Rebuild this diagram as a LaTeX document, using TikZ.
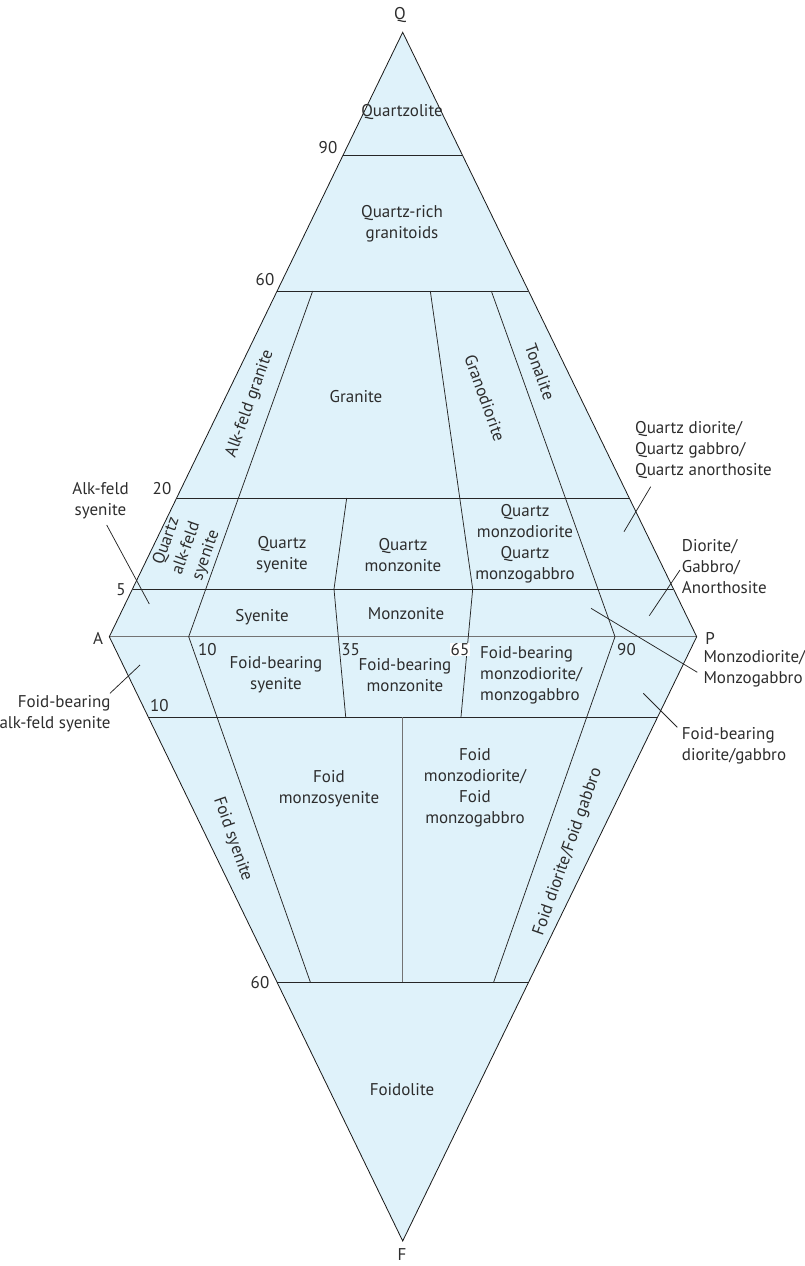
\documentclass[tikz,border=0pt]{standalone}
\usepackage{fontspec}
\setmainfont{PT Sans}
\definecolor{fillblue}{RGB}{223,242,250}
\definecolor{txt}{RGB}{45,45,45}
\begin{document}
\begin{tikzpicture}[x=1pt,y=-1pt,
  lbl/.style={font=\fontsize{17}{21}\selectfont, text=txt, align=center, inner sep=0pt},
  lbll/.style={lbl, align=left, anchor=west},
  lblr/.style={lbl, align=right, anchor=east},
  edge/.style={draw=black!90, line width=0.8pt, line join=miter},
  div/.style={draw=black!85, line width=0.75pt},
  axis/.style={draw=black!55, line width=1.3pt},
  leader/.style={draw=black!85, line width=0.75pt}]
\useasboundingbox (0,0) rectangle (804,1266);

% apices
\coordinate (Q) at (402.7,32.3);
\coordinate (A) at (109.3,636.7);
\coordinate (P) at (696.7,636.7);
\coordinate (F) at (402.7,1241);

\fill[fillblue] (Q) -- (A) -- (F) -- (P) -- cycle;

% horizontal scale lines
\coordinate (l90) at (343.1,155);  \coordinate (r90) at (462.3,155);
\coordinate (l60u) at (277.1,291); \coordinate (r60u) at (528.3,291);
\coordinate (l20) at (176.6,498);  \coordinate (r20) at (628.8,498);
\coordinate (l5) at (132.5,589);   \coordinate (r5) at (672.9,589);
\coordinate (l10) at (148.3,717);  \coordinate (r10) at (657.1,717);
\coordinate (l60d) at (277,982);   \coordinate (r60d) at (528.4,982);
\draw[div] (l90) -- (r90);
\draw[div] (l60u) -- (r60u);
\draw[div] (l20) -- (r20);
\draw[div] (l5) -- (r5);
\draw[div] (l10) -- (r10);
\draw[div] (l60d) -- (r60d);
\draw[axis] (A) -- (P);

% interior dividers
\coordinate (a1) at (312.7,291); \coordinate (a2) at (188.7,636.7); \coordinate (a3) at (310.3,982);
\draw[div] (a1) -- (a2) -- (a3);
\coordinate (b1) at (346.7,498); \coordinate (b2) at (334,589); \coordinate (b3) at (338.3,636.7); \coordinate (b4) at (345.7,717);
\draw[div] (b1) -- (b2) -- (b3) -- (b4);
\coordinate (c1) at (430.3,291); \coordinate (c2) at (472.7,589); \coordinate (c3) at (468.3,636.7); \coordinate (c4) at (461,717);
\draw[div] (c1) -- (c2) -- (c3) -- (c4);
\coordinate (d1) at (491.3,291); \coordinate (d2) at (615,636.7); \coordinate (d3) at (493.7,982);
\draw[div] (d1) -- (d2) -- (d3);
\coordinate (e1) at (402.7,717); \coordinate (e2) at (402.7,982);
\draw[axis] (e1) -- (e2);

% outline
\draw[edge] (Q) -- (A) -- (F) -- (P) -- cycle;

% apex labels
\node[lbl] (qlab) at (400,15) {Q};
\node[lbl] (alab) at (98,638) {A};
\node[lbl] (plab) at (710,638) {P};
\node[lbl] (flab) at (402,1255) {F};

% scale numbers
\node[lbl] (n90u) at (328,148) {90};
\node[lbl] (n60u) at (265,280) {60};
\node[lbl] (n20) at (162,489) {20};
\node[lbl] (n5) at (121,590) {5};
\node[lbl] (n10a) at (207.3,649.3) {10};
\node[lbl] (n35) at (350.7,649.3) {35};
\node[lbl, fill=white, inner sep=0.5pt] (n65) at (460,649.3) {65};
\node[lbl] (n90d) at (626.5,649.3) {90};
\node[lbl] (n10b) at (159.3,705.7) {10};
\node[lbl] (n60d) at (260,983) {60};

% field labels
\node[lbl] (qz) at (402,112) {Quartzolite};
\node[lbl] (qrg) at (402,223.5) {Quartz-rich\\granitoids};
\node[lbl] (gr) at (356,397) {Granite};
\node[lbl, rotate=70.3] (afg) at (250,404) {Alk-feld granite};
\node[lbl, rotate=-70.3] (gd) at (485,398) {Granodiorite};
\node[lbl, rotate=-70.3] (ton) at (540,372) {Tonalite};
\node[lbl, rotate=70.3] (qafs) at (186.5,548.3) {Quartz\\alk-feld\\syenite};
\node[lbl] (qsy) at (282,555) {Quartz\\syenite};
\node[lbl] (qmz) at (403,555) {Quartz\\monzonite};
\node[lbl] (qmd) at (525,544) {Quartz\\monzodiorite\\Quartz\\monzogabbro};
\node[lbl] (sy) at (262,616.7) {Syenite};
\node[lbl] (mz) at (406,614) {Monzonite};
\node[lbl] (fbs) at (276,675) {Foid-bearing\\syenite};
\node[lbl] (fbm) at (405,675) {Foid-bearing\\monzonite};
\node[lbll] (fbmd) at (480,675) {Foid-bearing\\monzodiorite/\\monzogabbro};
\node[lbl] (fms) at (329,789) {Foid\\monzosyenite};
\node[lbl] (fmd) at (475,787.5) {Foid\\monzodiorite/\\Foid\\monzogabbro};
\node[lbl, rotate=-70.6] (fsy) at (232.5,839) {Foid syenite};
\node[lbl, rotate=70.6] (fdg) at (568,852) {Foid diorite/Foid gabbro};
\node[lbl] (fdl) at (402,1090) {Foidolite};

% outside labels
\node[lbl] (afs) at (100.5,501) {Alk-feld\\syenite};
\node[lblr] (fbafs) at (110.7,713.5) {Foid-bearing\\alk-feld syenite};
\node[lbll] (qdg) at (635,450) {Quartz diorite/\\Quartz gabbro/\\Quartz anorthosite};
\node[lbll] (dga) at (681.7,567) {Diorite/\\Gabbro/\\Anorthosite};
\node[lbll] (mdg) at (703.3,668.7) {Monzodiorite/\\Monzogabbro};
\node[lbll] (fbdg) at (681.7,745.5) {Foid-bearing\\diorite/gabbro};

% leaders
\coordinate (s1) at (106.7,525); \coordinate (t1) at (149.3,604);
\coordinate (s2) at (110,693.3); \coordinate (t2) at (140,665);
\coordinate (s3) at (650.7,486.7); \coordinate (t3) at (624,531.7);
\coordinate (s4) at (680,570); \coordinate (t4) at (649.3,615.7);
\coordinate (s5) at (697.3,672.3); \coordinate (t5) at (591,608.3);
\coordinate (s6) at (677.3,727.3); \coordinate (t6) at (643.3,693.3);
\draw[leader] (s1) -- (t1);
\draw[leader] (s2) -- (t2);
\draw[leader] (s3) -- (t3);
\draw[leader] (s4) -- (t4);
\draw[leader] (s5) -- (t5);
\draw[leader] (s6) -- (t6);
\end{tikzpicture}
\end{document}
